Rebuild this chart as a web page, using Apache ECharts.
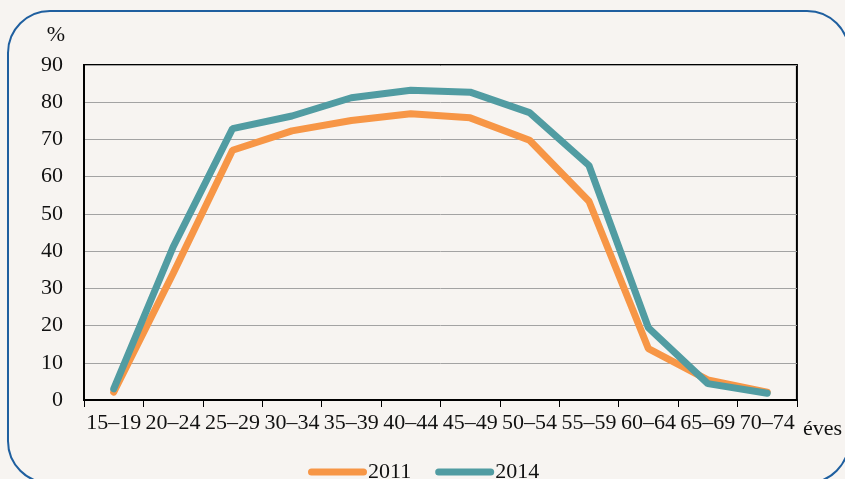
<!DOCTYPE html>
<html>
<head>
<meta charset="utf-8">
<script src="https://cdn.jsdelivr.net/npm/echarts@6/dist/echarts.min.js"></script>
<style>
html,body{margin:0;padding:0;background:#f7f4f1;}
#c{width:845px;height:479px;}
</style>
</head>
<body>
<div id="c"></div>
<script>
var categories = ['15–19','20–24','25–29','30–34','35–39','40–44','45–49','50–54','55–59','60–64','65–69','70–74'];
var values2011 = [2.1, 34.0, 67.1, 72.3, 75.1, 76.9, 75.8, 69.8, 53.4, 13.8, 5.4, 2.1];
var values2014 = [3.0, 41.1, 72.9, 76.3, 81.2, 83.2, 82.7, 77.2, 63.0, 19.4, 4.4, 1.8];
var yTicks = {min: 0, max: 90, interval: 10};
var seriesNames = ['2011', '2014'];

var FONT = '"Liberation Serif", "DejaVu Serif", serif';
var TXT = '#111';
var chart = echarts.init(document.getElementById('c'), null, {renderer: 'canvas'});
var pill = 'path://M3.5,0 H55.5 A3.5,3.5 0 0 1 55.5,7 H3.5 A3.5,3.5 0 0 1 3.5,0 Z';
chart.setOption({
  backgroundColor: '#f7f4f1',
  animation: false,
  textStyle: {fontFamily: FONT},
  graphic: [{
    type: 'rect', z: -10, silent: true,
    shape: {x: 8, y: 11, width: 841, height: 472, r: 42},
    style: {fill: 'none', stroke: '#1f5f9f', lineWidth: 2}
  }],
  grid: {left: 84, right: 46, top: 65, bottom: 79, show: true, borderColor: '#000', borderWidth: 2, backgroundColor: 'transparent'},
  legend: {
    left: 303, top: 456,
    itemWidth: 59, itemHeight: 7, itemGap: 24,
    icon: pill,
    textStyle: {fontFamily: FONT, fontSize: 22, color: TXT, padding: [0,0,0,-4]},
    data: seriesNames
  },
  xAxis: {
    type: 'category',
    data: categories,
    boundaryGap: true,
    name: 'éves',
    nameLocation: 'end',
    nameGap: 6,
    nameTextStyle: {fontFamily: FONT, fontSize: 22, color: TXT, verticalAlign: 'top', padding: [18,0,0,0]},
    axisLine: {show: true, lineStyle: {color: '#000', width: 2}},
    axisTick: {show: true, length: 7, lineStyle: {color: '#000', width: 1}},
    axisLabel: {interval: 0, fontFamily: FONT, fontSize: 22, color: TXT, margin: 12, hideOverlap: false},
    splitLine: {show: false}
  },
  yAxis: {
    type: 'value',
    min: yTicks.min, max: yTicks.max, interval: yTicks.interval,
    name: '%',
    nameLocation: 'end',
    nameGap: 19,
    nameTextStyle: {fontFamily: FONT, fontSize: 22, color: TXT, align: 'right', padding: [0,19,0,0]},
    axisLine: {show: true, lineStyle: {color: '#000', width: 2}},
    axisTick: {show: false},
    axisLabel: {fontFamily: FONT, fontSize: 22, color: TXT, margin: 21},
    splitLine: {show: true, lineStyle: {color: '#a3a3a3', width: 1}}
  },
  series: [
    {name: seriesNames[0], type: 'line', data: values2011, symbol: 'none', color: '#f79646',
     lineStyle: {width: 7, color: '#f79646', cap: 'round'}},
    {name: seriesNames[1], type: 'line', data: values2014, symbol: 'none', color: '#519ca2',
     lineStyle: {width: 7, color: '#519ca2', cap: 'round'}}
  ]
});
</script>
</body>
</html>
